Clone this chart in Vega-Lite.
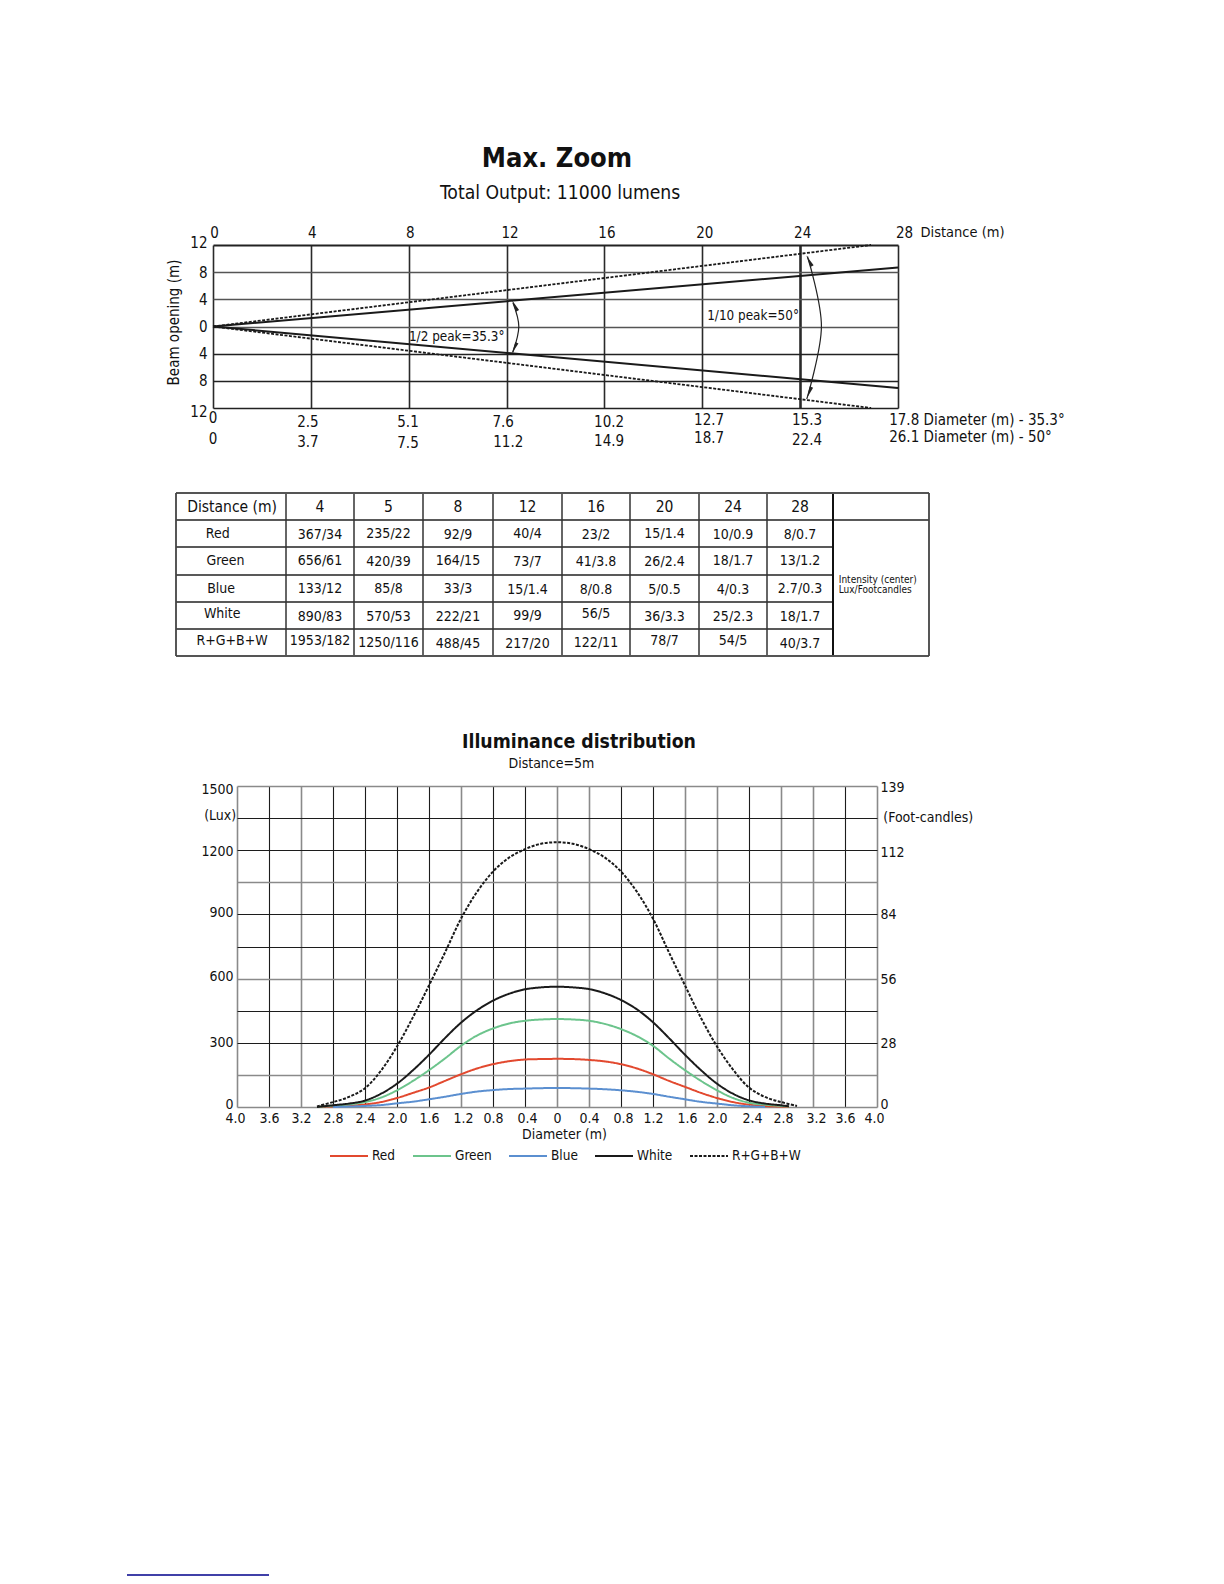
{"$schema":"https://vega.github.io/schema/vega-lite/v6.json","padding":0,"spacing":0,"bounds":"flush","background":"white",
"config":{"view":{"stroke":null},"font":"DejaVu Sans Condensed","axis":{"domain":false,"ticks":false,"labelFont":"DejaVu Sans Condensed","titleFont":"DejaVu Sans Condensed","titleFontWeight":"normal","labelColor":"#111","titleColor":"#111"},"legend":{"labelFont":"DejaVu Sans Condensed"},"text":{"color":"#111"}},
"datasets":{
"beam":[
{"line":"half-up","dist":0,"open":0},{"line":"half-up","dist":28,"open":8.7},
{"line":"half-down","dist":0,"open":0},{"line":"half-down","dist":28,"open":-9.07}],
"tenth":[
{"line":"tenth-up","dist":0,"open":0},{"line":"tenth-up","dist":26.9,"open":12},
{"line":"tenth-down","dist":0,"open":0},{"line":"tenth-down","dist":26.9,"open":-12}],
"arcs":[
{"arc":"half","i":0,"dist":12.26,"open":3.5},{"arc":"half","i":1,"dist":12.5,"open":0},{"arc":"half","i":2,"dist":12.26,"open":-3.8},
{"arc":"tenth","i":0,"dist":24.3,"open":10.3},{"arc":"tenth","i":1,"dist":24.87,"open":0},{"arc":"tenth","i":2,"dist":24.27,"open":-10.7}],
"arrows":[
{"dist":12.37,"open":2.84,"bearing":-27},{"dist":12.35,"open":-2.94,"bearing":205},
{"dist":24.41,"open":9.41,"bearing":-28},{"dist":24.4,"open":-9.46,"bearing":202}],
"beamLabels":[
{"dist":0,"open":-13.5,"t":"0"},{"dist":3.88,"open":-14,"t":"2.5"},{"dist":7.97,"open":-14,"t":"5.1"},{"dist":11.86,"open":-14,"t":"7.6"},{"dist":16.19,"open":-14,"t":"10.2"},{"dist":20.28,"open":-13.7,"t":"12.7"},{"dist":24.28,"open":-13.7,"t":"15.3"},
{"dist":0,"open":-16.5,"t":"0"},{"dist":3.88,"open":-17,"t":"3.7"},{"dist":7.97,"open":-17.1,"t":"7.5"},{"dist":12.07,"open":-17,"t":"11.2"},{"dist":16.19,"open":-16.8,"t":"14.9"},{"dist":20.28,"open":-16.4,"t":"18.7"},{"dist":24.28,"open":-16.7,"t":"22.4"}],
"beamNotes":[
{"dist":27.64,"open":-13.8,"t":"17.8 Diameter (m) - 35.3°"},{"dist":27.64,"open":-16.3,"t":"26.1 Diameter (m) - 50°"}],
"peakNotes":[
{"dist":8.01,"open":-1.6,"t":"1/2 peak=35.3°"},{"dist":20.2,"open":1.6,"t":"1/10 peak=50°"}],
"cells":[
{"c":0.51,"r":0.5,"t":"Distance (m)"},{"c":1.5,"r":0.5,"t":"4"},{"c":2.5,"r":0.5,"t":"5"},{"c":3.5,"r":0.5,"t":"8"},{"c":4.5,"r":0.5,"t":"12"},{"c":5.5,"r":0.5,"t":"16"},{"c":6.5,"r":0.5,"t":"20"},{"c":7.5,"r":0.5,"t":"24"},{"c":8.5,"r":0.5,"t":"28"}],
"body":[
{"c":0.38,"r":1.5,"t":"Red"},{"c":1.5,"r":1.55,"t":"367/34"},{"c":2.5,"r":1.5,"t":"235/22"},{"c":3.5,"r":1.55,"t":"92/9"},{"c":4.5,"r":1.5,"t":"40/4"},{"c":5.5,"r":1.55,"t":"23/2"},{"c":6.5,"r":1.5,"t":"15/1.4"},{"c":7.5,"r":1.55,"t":"10/0.9"},{"c":8.5,"r":1.55,"t":"8/0.7"},
{"c":0.45,"r":2.5,"t":"Green"},{"c":1.5,"r":2.5,"t":"656/61"},{"c":2.5,"r":2.55,"t":"420/39"},{"c":3.5,"r":2.5,"t":"164/15"},{"c":4.5,"r":2.55,"t":"73/7"},{"c":5.5,"r":2.55,"t":"41/3.8"},{"c":6.5,"r":2.55,"t":"26/2.4"},{"c":7.5,"r":2.5,"t":"18/1.7"},{"c":8.5,"r":2.5,"t":"13/1.2"},
{"c":0.41,"r":3.5,"t":"Blue"},{"c":1.5,"r":3.5,"t":"133/12"},{"c":2.5,"r":3.5,"t":"85/8"},{"c":3.5,"r":3.5,"t":"33/3"},{"c":4.5,"r":3.55,"t":"15/1.4"},{"c":5.5,"r":3.55,"t":"8/0.8"},{"c":6.5,"r":3.55,"t":"5/0.5"},{"c":7.5,"r":3.55,"t":"4/0.3"},{"c":8.5,"r":3.5,"t":"2.7/0.3"},
{"c":0.42,"r":4.45,"t":"White"},{"c":1.5,"r":4.55,"t":"890/83"},{"c":2.5,"r":4.55,"t":"570/53"},{"c":3.5,"r":4.55,"t":"222/21"},{"c":4.5,"r":4.5,"t":"99/9"},{"c":5.5,"r":4.45,"t":"56/5"},{"c":6.5,"r":4.55,"t":"36/3.3"},{"c":7.5,"r":4.55,"t":"25/2.3"},{"c":8.5,"r":4.55,"t":"18/1.7"},
{"c":0.51,"r":5.45,"t":"R+G+B+W"},{"c":1.5,"r":5.45,"t":"1953/182"},{"c":2.5,"r":5.5,"t":"1250/116"},{"c":3.5,"r":5.55,"t":"488/45"},{"c":4.5,"r":5.55,"t":"217/20"},{"c":5.5,"r":5.5,"t":"122/11"},{"c":6.5,"r":5.45,"t":"78/7"},{"c":7.5,"r":5.45,"t":"54/5"},{"c":8.5,"r":5.55,"t":"40/3.7"}],
"hlines":[{"r":1,"a":0,"b":10},{"r":2,"a":0,"b":9},{"r":3,"a":0,"b":9},{"r":4,"a":0,"b":9},{"r":5,"a":0,"b":9}],
"vlines":[{"c":1,"r0":0,"r1":6},{"c":2,"r0":0,"r1":6},{"c":3,"r0":0,"r1":6},{"c":4,"r0":0,"r1":6},{"c":5,"r0":0,"r1":6},{"c":6,"r0":0,"r1":6},{"c":7,"r0":0,"r1":6},{"c":8,"r0":0,"r1":6}],
"noteLine":[{"c":9,"r0":0,"r1":6}],
"frameH":[{"r":0,"a":0,"b":10},{"r":6,"a":0,"b":10}],
"frameV":[{"c":0,"r0":0,"r1":6},{"c":10,"r0":0,"r1":6}],
"curves":[
{"s":"Red","d":-3,"v":0},{"s":"Red","d":-2.8,"v":3},{"s":"Red","d":-2.6,"v":6},{"s":"Red","d":-2.4,"v":12},{"s":"Red","d":-2.2,"v":23},{"s":"Red","d":-2,"v":42},{"s":"Red","d":-1.8,"v":66},{"s":"Red","d":-1.6,"v":91},{"s":"Red","d":-1.4,"v":122},{"s":"Red","d":-1.2,"v":153},{"s":"Red","d":-1,"v":180},{"s":"Red","d":-0.8,"v":200},{"s":"Red","d":-0.6,"v":214},{"s":"Red","d":-0.4,"v":222},{"s":"Red","d":-0.2,"v":224},{"s":"Red","d":0,"v":225},{"s":"Red","d":0.2,"v":224},{"s":"Red","d":0.4,"v":220},{"s":"Red","d":0.6,"v":213},{"s":"Red","d":0.8,"v":200},{"s":"Red","d":1,"v":180},{"s":"Red","d":1.2,"v":153},{"s":"Red","d":1.4,"v":122},{"s":"Red","d":1.6,"v":94},{"s":"Red","d":1.8,"v":66},{"s":"Red","d":2,"v":42},{"s":"Red","d":2.2,"v":23},{"s":"Red","d":2.4,"v":11},{"s":"Red","d":2.6,"v":5},{"s":"Red","d":2.8,"v":2},{"s":"Red","d":2.9,"v":0},
{"s":"Green","d":-3,"v":0},{"s":"Green","d":-2.8,"v":6},{"s":"Green","d":-2.6,"v":12},{"s":"Green","d":-2.4,"v":23},{"s":"Green","d":-2.2,"v":44},{"s":"Green","d":-2,"v":78},{"s":"Green","d":-1.8,"v":122},{"s":"Green","d":-1.6,"v":172},{"s":"Green","d":-1.4,"v":227},{"s":"Green","d":-1.2,"v":286},{"s":"Green","d":-1,"v":334},{"s":"Green","d":-0.8,"v":367},{"s":"Green","d":-0.6,"v":390},{"s":"Green","d":-0.4,"v":403},{"s":"Green","d":-0.2,"v":409},{"s":"Green","d":0,"v":411},{"s":"Green","d":0.2,"v":409},{"s":"Green","d":0.4,"v":403},{"s":"Green","d":0.6,"v":388},{"s":"Green","d":0.8,"v":364},{"s":"Green","d":1,"v":331},{"s":"Green","d":1.2,"v":286},{"s":"Green","d":1.4,"v":227},{"s":"Green","d":1.6,"v":172},{"s":"Green","d":1.8,"v":122},{"s":"Green","d":2,"v":78},{"s":"Green","d":2.2,"v":42},{"s":"Green","d":2.4,"v":20},{"s":"Green","d":2.6,"v":11},{"s":"Green","d":2.8,"v":5},{"s":"Green","d":2.9,"v":2},
{"s":"Blue","d":-2.8,"v":0},{"s":"Blue","d":-2.6,"v":2},{"s":"Blue","d":-2.4,"v":5},{"s":"Blue","d":-2.2,"v":9},{"s":"Blue","d":-2,"v":17},{"s":"Blue","d":-1.8,"v":25},{"s":"Blue","d":-1.6,"v":36},{"s":"Blue","d":-1.4,"v":48},{"s":"Blue","d":-1.2,"v":61},{"s":"Blue","d":-1,"v":72},{"s":"Blue","d":-0.8,"v":79},{"s":"Blue","d":-0.6,"v":84},{"s":"Blue","d":-0.4,"v":86},{"s":"Blue","d":-0.2,"v":88},{"s":"Blue","d":0,"v":89},{"s":"Blue","d":0.2,"v":88},{"s":"Blue","d":0.4,"v":86},{"s":"Blue","d":0.6,"v":83},{"s":"Blue","d":0.8,"v":78},{"s":"Blue","d":1,"v":71},{"s":"Blue","d":1.2,"v":61},{"s":"Blue","d":1.4,"v":48},{"s":"Blue","d":1.6,"v":36},{"s":"Blue","d":1.8,"v":24},{"s":"Blue","d":2,"v":16},{"s":"Blue","d":2.2,"v":8},{"s":"Blue","d":2.4,"v":3},{"s":"Blue","d":2.6,"v":0},
{"s":"White","d":-3,"v":0},{"s":"White","d":-2.8,"v":8},{"s":"White","d":-2.6,"v":16},{"s":"White","d":-2.4,"v":30},{"s":"White","d":-2.2,"v":62},{"s":"White","d":-2,"v":109},{"s":"White","d":-1.8,"v":172},{"s":"White","d":-1.6,"v":244},{"s":"White","d":-1.4,"v":322},{"s":"White","d":-1.2,"v":394},{"s":"White","d":-1,"v":452},{"s":"White","d":-0.8,"v":497},{"s":"White","d":-0.6,"v":529},{"s":"White","d":-0.4,"v":550},{"s":"White","d":-0.2,"v":559},{"s":"White","d":0,"v":562},{"s":"White","d":0.2,"v":559},{"s":"White","d":0.4,"v":551},{"s":"White","d":0.6,"v":531},{"s":"White","d":0.8,"v":500},{"s":"White","d":1,"v":456},{"s":"White","d":1.2,"v":396},{"s":"White","d":1.4,"v":322},{"s":"White","d":1.6,"v":244},{"s":"White","d":1.8,"v":172},{"s":"White","d":2,"v":109},{"s":"White","d":2.2,"v":62},{"s":"White","d":2.4,"v":31},{"s":"White","d":2.6,"v":16},{"s":"White","d":2.8,"v":8},{"s":"White","d":2.9,"v":3},
{"s":"R+G+B+W","d":-3,"v":3},{"s":"R+G+B+W","d":-2.8,"v":23},{"s":"R+G+B+W","d":-2.6,"v":47},{"s":"R+G+B+W","d":-2.4,"v":88},{"s":"R+G+B+W","d":-2.2,"v":170},{"s":"R+G+B+W","d":-2,"v":283},{"s":"R+G+B+W","d":-1.8,"v":420},{"s":"R+G+B+W","d":-1.6,"v":568},{"s":"R+G+B+W","d":-1.4,"v":722},{"s":"R+G+B+W","d":-1.2,"v":880},{"s":"R+G+B+W","d":-1,"v":1005},{"s":"R+G+B+W","d":-0.8,"v":1100},{"s":"R+G+B+W","d":-0.6,"v":1165},{"s":"R+G+B+W","d":-0.4,"v":1205},{"s":"R+G+B+W","d":-0.2,"v":1230},{"s":"R+G+B+W","d":0,"v":1237},{"s":"R+G+B+W","d":0.2,"v":1230},{"s":"R+G+B+W","d":0.4,"v":1205},{"s":"R+G+B+W","d":0.6,"v":1165},{"s":"R+G+B+W","d":0.8,"v":1100},{"s":"R+G+B+W","d":1,"v":1005},{"s":"R+G+B+W","d":1.2,"v":880},{"s":"R+G+B+W","d":1.4,"v":722},{"s":"R+G+B+W","d":1.6,"v":568},{"s":"R+G+B+W","d":1.8,"v":416},{"s":"R+G+B+W","d":2,"v":283},{"s":"R+G+B+W","d":2.2,"v":175},{"s":"R+G+B+W","d":2.4,"v":91},{"s":"R+G+B+W","d":2.6,"v":47},{"s":"R+G+B+W","d":2.8,"v":23},{"s":"R+G+B+W","d":3,"v":5}]
},
"vconcat":[
{"width":1224,"height":470,
"encoding":{
"x":{"field":"dist","type":"quantitative","scale":{"domain":[0,28],"range":[213,898],"nice":false,"zero":false},
"axis":{"orient":"top","offset":-245,"values":[0,4,8,12,16,20,24,28],"labelPadding":5,"labelFontSize":15,"labelOverlap":false,"labelBound":false,"labelFlush":false,"labelOffset":{"condition":[{"test":"datum.value==28","value":6},{"test":"datum.value==12","value":3},{"test":"datum.value>0&&datum.value!=4&&datum.value!=8","value":2}],"value":1},"title":"Distance (m)","titleFontSize":14.5,"titleX":920,"titleY":-13,"titleAlign":"left","titleBaseline":"middle","titleAngle":0,
"grid":true,"gridColor":"#2a2a2a","gridWidth":{"condition":{"test":"datum.value==24","value":2.6},"value":1.6}}},
"y":{"field":"open","type":"quantitative","scale":{"domain":[-12,12],"range":[408,245],"nice":false,"zero":false},
"axis":{"orient":"left","offset":-213,"values":[-12,-8,-4,0,4,8,12],"labelExpr":"format(abs(datum.value),'d')","labelPadding":6,"labelFontSize":15,"labelOverlap":false,"labelBound":false,"labelOffset":{"condition":[{"test":"datum.value==12","value":-3},{"test":"datum.value==-12","value":3}],"value":0},"title":"Beam opening (m)","titleFontSize":15,"titleAngle":-90,"titleX":-40,"titleY":322,"titleAlign":"center","titleBaseline":"middle",
"grid":true,"gridColor":{"condition":{"test":"datum.value>=0&&datum.value<12","value":"#555"},"value":"#222"},"gridWidth":{"condition":{"test":"datum.value==12","value":2.2},"value":1.3}}}},
"layer":[
{"data":{"name":"beam"},"mark":{"type":"line","color":"#1a1a1a","strokeWidth":2,"clip":false},"encoding":{"detail":{"field":"line"}}},
{"data":{"name":"tenth"},"mark":{"type":"line","color":"#1a1a1a","strokeWidth":1.8,"strokeDash":[3,1.5]},"encoding":{"detail":{"field":"line"}}},
{"data":{"name":"arcs"},"mark":{"type":"line","color":"#222","strokeWidth":1.2,"interpolate":"cardinal"},"encoding":{"detail":{"field":"arc"},"order":{"field":"i"}}},
{"data":{"name":"arrows"},"mark":{"type":"point","shape":"wedge","filled":true,"color":"#222","size":200,"opacity":1},"encoding":{"angle":{"field":"bearing","type":"quantitative","scale":null}}},
{"data":{"name":"beamLabels"},"mark":{"type":"text","fontSize":15,"align":"center","baseline":"middle"},"encoding":{"text":{"field":"t"}}},
{"data":{"name":"beamNotes"},"mark":{"type":"text","fontSize":15,"align":"left","baseline":"middle"},"encoding":{"text":{"field":"t"}}},
{"data":{"name":"peakNotes"},"mark":{"type":"text","fontSize":13.4,"align":"left","baseline":"middle"},"encoding":{"text":{"field":"t"}}},
{"data":{"values":[{"dist":14.06,"open":24.7,"t":"Max. Zoom"}]},"mark":{"type":"text","fontSize":27,"fontWeight":"bold","align":"center","baseline":"middle"},"encoding":{"text":{"field":"t"}}},
{"data":{"values":[{"dist":14.19,"open":19.6,"t":"Total Output: 11000 lumens"}]},"mark":{"type":"text","fontSize":19.2,"align":"center","baseline":"middle"},"encoding":{"text":{"field":"t"}}}
]},
{"width":1224,"height":230,
"encoding":{
"x":{"field":"c","type":"quantitative","scale":{"domain":[0,1,2,3,4,5,6,7,8,9,10],"range":[176,286,354,423,493,562,630,699,767,833,929],"nice":false,"zero":false},"axis":null},
"y":{"field":"r","type":"quantitative","scale":{"domain":[0,1,2,3,4,5,6],"range":[23,50,77,105,132,159,186],"nice":false,"zero":false},"axis":null}},
"layer":[
{"data":{"name":"hlines"},"mark":{"type":"rule","color":"#222","strokeWidth":1.5},"encoding":{"x":{"field":"a","type":"quantitative"},"x2":{"field":"b"},"y":{"field":"r","type":"quantitative"}}},
{"data":{"name":"vlines"},"mark":{"type":"rule","color":"#333","strokeWidth":1.5},"encoding":{"x":{"field":"c","type":"quantitative"},"y":{"field":"r0","type":"quantitative"},"y2":{"field":"r1"}}},
{"data":{"name":"noteLine"},"mark":{"type":"rule","color":"#111","strokeWidth":2},"encoding":{"x":{"field":"c","type":"quantitative"},"y":{"field":"r0","type":"quantitative"},"y2":{"field":"r1"}}},
{"data":{"name":"frameH"},"mark":{"type":"rule","color":"#555","strokeWidth":1.8},"encoding":{"x":{"field":"a","type":"quantitative"},"x2":{"field":"b"},"y":{"field":"r","type":"quantitative"}}},
{"data":{"name":"frameV"},"mark":{"type":"rule","color":"#444","strokeWidth":1.8},"encoding":{"x":{"field":"c","type":"quantitative"},"y":{"field":"r0","type":"quantitative"},"y2":{"field":"r1"}}},
{"data":{"name":"cells"},"mark":{"type":"text","fontSize":15.5,"align":"center","baseline":"middle"},"encoding":{"text":{"field":"t"}}},
{"data":{"name":"body"},"mark":{"type":"text","fontSize":14,"align":"center","baseline":"middle"},"encoding":{"text":{"field":"t"}}},
{"data":{"values":[{"c":9.06,"r":3.18,"t":"Intensity (center)"},{"c":9.06,"r":3.55,"t":"Lux/Footcandles"}]},"mark":{"type":"text","fontSize":10,"align":"left","baseline":"middle"},"encoding":{"text":{"field":"t"}}}
]},
{"width":1224,"height":493,
"encoding":{"x":{"field":"d","type":"quantitative","scale":{"domain":[-4,4],"range":[237,877],"nice":false,"zero":false},
"axis":{"orient":"bottom","offset":-86,"values":[-4,-3.6,-3.2,-2.8,-2.4,-2,-1.6,-1.2,-0.8,-0.4,0,0.4,0.8,1.2,1.6,2,2.4,2.8,3.2,3.6,4],"labelExpr":"datum.value==0?'0':format(abs(datum.value),'.1f')","labelPadding":4,"labelFontSize":14,"labelOverlap":false,"labelBound":false,"labelFlush":false,"labelOffset":{"condition":[{"test":"datum.value==-4","value":-2},{"test":"datum.value==4","value":-3},{"test":"indexof([-1.2,-0.4,0.8,1.6,2.8],datum.value)>=0","value":2},{"test":"datum.value==2.4||datum.value==3.2","value":3}],"value":0},"title":"Diameter (m)","titleFontSize":14,"titleX":564,"titleY":27,"titleAlign":"center","titleBaseline":"middle",
"grid":true,"gridColor":{"condition":{"test":"indexof([-4,-3.2,-1.2,0,0.4,1.6,2,2.8,3.2,4],datum.value)>=0","value":"#8a8a8a"},"value":"#1c1c1c"},"gridWidth":{"condition":{"test":"indexof([-4,-3.2,-1.2,0,0.4,1.6,2,2.8,3.2,4],datum.value)>=0","value":1.6},"value":1.1}}}},
"layer":[
{"encoding":{"y":{"field":"v","type":"quantitative","scale":{"domain":[0,1500],"range":[407,86],"nice":false,"zero":false},
"axis":{"orient":"left","offset":-237,"values":[0,150,300,450,600,750,900,1050,1200,1350,1500],"labelExpr":"datum.value%300==0?format(datum.value,'d'):''","labelPadding":4,"labelFontSize":14,"labelOverlap":false,"labelBound":false,"labelOffset":{"condition":[{"test":"datum.value==0","value":-3},{"test":"datum.value==1500","value":3},{"test":"datum.value==900||datum.value==600","value":-2},{"test":"datum.value==1200","value":1}],"value":0},"title":null,
"grid":true,"gridColor":{"condition":{"test":"indexof([0,150,600,1050,1500],datum.value)>=0","value":"#8a8a8a"},"value":"#1c1c1c"},"gridWidth":{"condition":{"test":"indexof([0,150,600,1050,1500],datum.value)>=0","value":1.6},"value":1.1}}}},
"layer":[
{"data":{"name":"curves"},"mark":{"type":"line","interpolate":"catmull-rom","strokeWidth":2},
"encoding":{
"color":{"field":"s","type":"nominal","scale":{"domain":["Red","Green","Blue","White","R+G+B+W"],"range":["#e2492f","#6cc48c","#5b8fd0","#1a1a1a","#1a1a1a"]},"legend":{"title":null,"orient":"none","legendX":329,"legendY":1136,"direction":"horizontal","columns":5,"gridAlign":"none","columnPadding":13,"symbolType":"stroke","symbolSize":1444,"symbolStrokeWidth":2,"labelFontSize":13.5,"labelOffset":3,"labelColor":"#111"}},
"strokeDash":{"field":"s","type":"nominal","scale":{"domain":["Red","Green","Blue","White","R+G+B+W"],"range":[[1,0],[1,0],[1,0],[1,0],[3,1.5]]},"legend":{"title":null,"orient":"none","legendX":329,"legendY":1136,"direction":"horizontal","columns":5,"gridAlign":"none","columnPadding":13,"symbolType":"stroke","symbolSize":1444,"symbolStrokeWidth":2,"labelFontSize":13.5,"labelOffset":3,"labelColor":"#111"}},
"detail":{"field":"s"}}},
{"data":{"values":[{"d":0.275,"v":1706,"t":"Illuminance distribution"}]},"mark":{"type":"text","fontSize":19.3,"fontWeight":"bold","align":"center","baseline":"middle"},"encoding":{"text":{"field":"t"}}},
{"data":{"values":[{"d":-0.07,"v":1603,"t":"Distance=5m"},{"d":-4.21,"v":1360,"t":"(Lux)"}]},"mark":{"type":"text","fontSize":14,"align":"center","baseline":"middle"},"encoding":{"text":{"field":"t"}}}
]},
{"data":{"values":[{"d":4.64,"fc":125,"t":"(Foot-candles)"}]},"mark":{"type":"text","fontSize":14,"align":"center","baseline":"middle"},
"encoding":{"text":{"field":"t"},"y":{"field":"fc","type":"quantitative","scale":{"domain":[0,139],"range":[407,86],"nice":false,"zero":false},"axis":{"orient":"right","offset":-347,"values":[0,28,56,84,112,139],"labelPadding":3,"labelFontSize":14,"labelOverlap":false,"labelBound":false,"labelOffset":{"condition":[{"test":"datum.value==0","value":-3},{"test":"datum.value==112","value":4},{"test":"datum.value==56","value":2}],"value":1},"title":null,"grid":false}}}}
],
"resolve":{"scale":{"y":"independent"},"axis":{"y":"independent"}}},
{"width":1224,"height":391,"data":{"values":[{"from":0,"to":1,"level":0}]},"mark":{"type":"rule","color":"#00008b","strokeWidth":1.5},
"encoding":{"x":{"field":"from","type":"quantitative","scale":{"domain":[0,1],"range":[127,269],"nice":false,"zero":false},"axis":null},"x2":{"field":"to"},"y":{"field":"level","type":"quantitative","scale":{"domain":[0,1],"range":[382,383],"nice":false,"zero":false},"axis":null}}}
]}
